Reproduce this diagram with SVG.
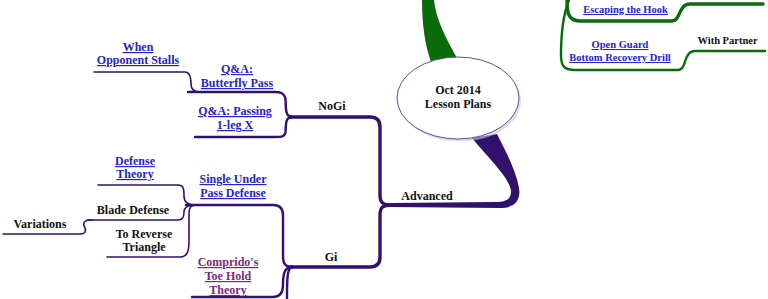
<svg xmlns="http://www.w3.org/2000/svg" width="768" height="299" viewBox="0 0 768 299">
<style>
text{font-family:"Liberation Serif","Times New Roman",serif;font-weight:bold;font-size:12px;text-anchor:middle}
.s{font-size:10.5px}
.k{fill:#111}
.l{fill:#2424cc;text-decoration:underline}
.m{fill:#7a2a7a;text-decoration:underline}
.p{fill:none;stroke:#32106e;stroke-linecap:round}
.g{fill:none;stroke:#0b6b0b;stroke-linecap:round}
.w1{stroke-width:1.6}
.w2{stroke-width:2.4}
.w3{stroke-width:3.4}
</style>
<rect width="768" height="299" fill="#fff"/>
<g id="connectors">
<path d="M422 0 C422 25 425 45 431 62 L457 58 C447 40 436 20 434 0 Z" fill="#0b6b0b"/>
<path d="M472 138 C490 160 512 180 511 193 C510 200 505 202 495 202 L390 203 L390 207 L500 208 C515 208 521 200 519 188 C516 170 505 150 497 134 Z" fill="#32106e"/>
<path class="p w3" d="M392 205 C383 205 380 203 380 195 L380 127 Q380 117 370 117 L290 117"/>
<path class="p w3" d="M392 205 C383 205 380 207 380 215 L380 257 Q380 267 370 267 L290 267"/>
<path class="p w2" d="M292 117 C283 117 287 100 285 97 C283 93 281 92 275 92 L188 92"/>
<path class="p w2" d="M292 117 C283 117 287 132 285 134 C283 137 281 137 275 137 L195 137"/>
<path class="p w1" d="M94 72 L185 72 C191 72 191 80 191 84 C191 90 194 92 200 92"/>
<path class="p w2" d="M292 267 C284 267 283 262 283 255 L283 215 Q283 205 273 205 L186 205"/>
<path class="p w2" d="M292 267 C284 267 283 275 283 285 Q283 297 273 297 L192 297"/>
<path class="p w2" d="M292 267 C287 268 287 280 287 299"/>
<path class="p w1" d="M98 185 L178 185 C184 185 184 190 184 196 C184 202 188 205 195 205"/>
<path class="p w1" d="M87 220 L178 220 C184 220 184 215 184 212 C184 207 188 205 195 205"/>
<path class="p w1" d="M107 257 L180 257 C188 257 189 250 189 240 L189 215 C189 208 190 205 197 205"/>
<path class="p w1" d="M3 234 L80 234 C87 234 86 229 84 226 C83 222 85 220 92 220"/>
<path class="g w3" d="M567 0 C567 10 567 21 580 21 L672 21 C681 21 678 4 690 4 L763 4"/>
<path class="g w2" d="M569 0 C563 15 561 30 561 55 C561 66 564 70 575 70 L678 70 C687 70 683 51 695 51 L765 51"/>
</g>
<g id="root">
<ellipse cx="460" cy="100.5" rx="61" ry="41" fill="#c8c8c8" opacity="0.6"/>
<ellipse cx="458" cy="98" rx="61" ry="41" fill="#fff" stroke="#5555a5" stroke-width="1"/>
<text class="k" x="458" y="94">Oct 2014</text>
<text class="k" x="458" y="108">Lesson Plans</text>
</g>
<g id="advanced"><text class="k" x="427" y="200">Advanced</text></g>
<g id="nogi"><text class="k" x="332" y="110">NoGi</text></g>
<g id="gi"><text class="k" x="331" y="261">Gi</text></g>
<g id="butterfly"><text class="l" x="237" y="73">Q&amp;A:</text><text class="l" x="237" y="87">Butterfly Pass</text></g>
<g id="stalls"><text class="l" x="138" y="51">When</text><text class="l" x="138" y="64">Opponent Stalls</text></g>
<g id="passing"><text class="l" x="235" y="115">Q&amp;A: Passing</text><text class="l" x="235" y="129">1-leg X</text></g>
<g id="single"><text class="l" x="233" y="183">Single Under</text><text class="l" x="233" y="197">Pass Defense</text></g>
<g id="defense"><text class="l" x="135" y="165">Defense</text><text class="l" x="135" y="178">Theory</text></g>
<g id="blade"><text class="k" x="133" y="214">Blade Defense</text></g>
<g id="variations"><text class="k" x="40" y="228">Variations</text></g>
<g id="reverse"><text class="k" x="144" y="238">To Reverse</text><text class="k" x="144" y="251">Triangle</text></g>
<g id="comprido"><text class="m" x="228" y="266">Comprido's</text><text class="m" x="228" y="280">Toe Hold</text><text class="m" x="228" y="294">Theory</text></g>
<g id="hook"><text class="l s" x="625.5" y="13">Escaping the Hook</text></g>
<g id="openguard"><text class="l s" x="620" y="48">Open Guard</text><text class="l s" x="620" y="61">Bottom Recovery Drill</text></g>
<g id="partner"><text class="k s" x="727.5" y="44">With Partner</text></g>
</svg>
